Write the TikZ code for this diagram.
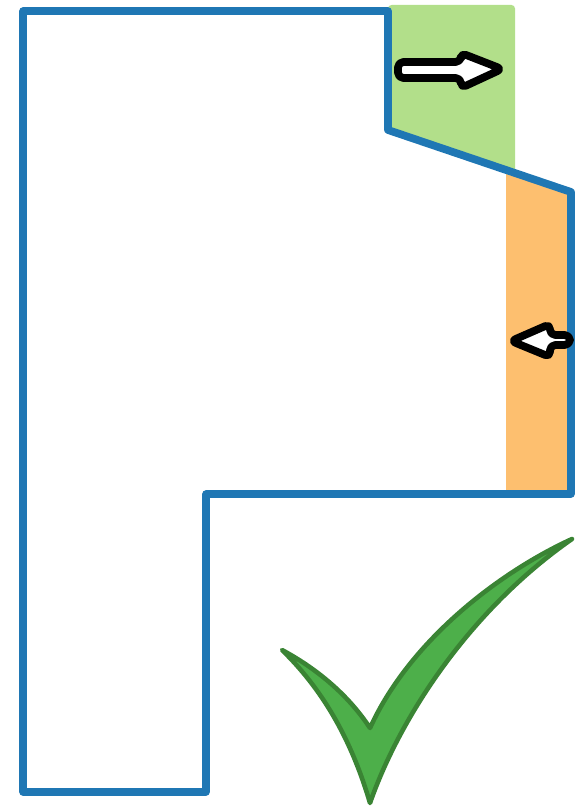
\documentclass[tikz,border=0pt]{standalone}
\usepackage{tikz}
\definecolor{wallblue}{HTML}{1F77B4}
\definecolor{growzone}{HTML}{B2DF8A}
\definecolor{shrinkzone}{HTML}{FDBF6F}
\definecolor{tickfill}{HTML}{4DAF4A}
\definecolor{tickline}{HTML}{3A8434}

\begin{document}
\begin{tikzpicture}[
  x=0.02cm, y=-0.02cm,
  wall/.style={draw=wallblue, line width=4.4pt, line join=round},
  move/.style={draw=black, fill=white, line width=4.4pt, line join=round,
    rounded corners=3pt},
  tick/.style={draw=tickline, fill=tickfill, line width=2.6pt, line join=round},
]
  \useasboundingbox (0,0) rectangle (579,807);

  % Shaded zones
  \fill[growzone, rounded corners=2pt] (388,5) -- (515,5) -- (515,173) -- (388,130) -- cycle;
  \fill[shrinkzone] (506,170) -- (571,192) -- (571,494) -- (506,494) -- cycle;

  % Outline
  \draw[wall] (23,11) -- (388,11) -- (388,130) -- (571,192) -- (571,494)
    -- (206,494) -- (206,792) -- (23,792) -- cycle;

  % Arrows
  \draw[move] (398,62) -- (461,62) -- (461,53) -- (502,69) -- (461,88)
    -- (461,78) -- (398,78) -- cycle;
  \draw[move] (570,335) -- (550,335) -- (550,324) -- (511,341) -- (550,357)
    -- (550,345) -- (570,345) -- cycle;

  % Check mark
  \draw[tick] (282,650) .. controls (320,687) and (350,735) .. (370,803)
    .. controls (400,717) and (470,610) .. (572,539)
    .. controls (500,572) and (410,640) .. (370,728)
    .. controls (345,690) and (310,665) .. cycle;
\end{tikzpicture}
\end{document}
